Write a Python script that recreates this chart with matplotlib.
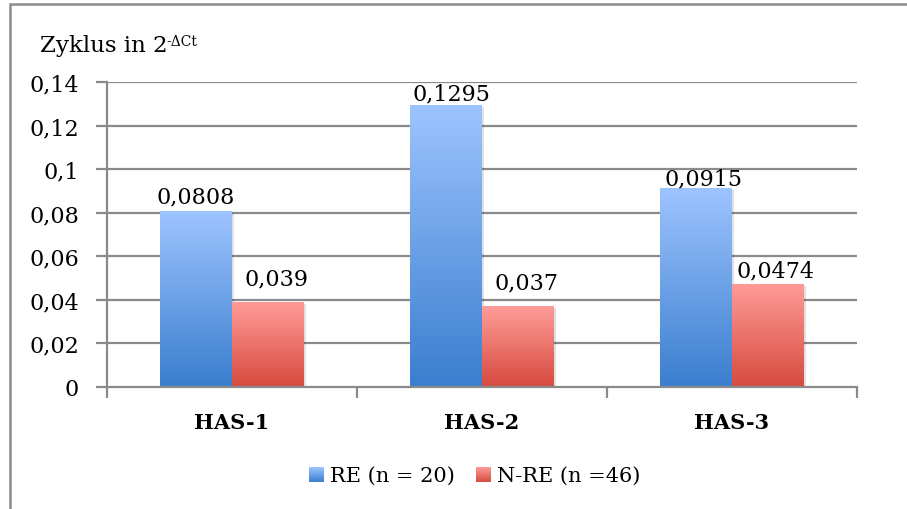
import numpy as np
import matplotlib
matplotlib.use("Agg")
import matplotlib.pyplot as plt
from matplotlib.patches import Rectangle
from matplotlib.colors import LinearSegmentedColormap
from matplotlib.transforms import ScaledTranslation

plt.rcParams['font.family'] = ['DejaVu Serif']

categories = ['HAS-1', 'HAS-2', 'HAS-3']
series_names = ['RE (n = 20)', 'N-RE (n =46)']
re_values = [0.0808, 0.1295, 0.0915]
nre_values = [0.039, 0.037, 0.0474]
value_labels_re = ['0,0808', '0,1295', '0,0915']
value_labels_nre = ['0,039', '0,037', '0,0474']
y_ticks = [0, 0.02, 0.04, 0.06, 0.08, 0.1, 0.12, 0.14]
y_tick_labels = ['0', '0,02', '0,04', '0,06', '0,08', '0,1', '0,12', '0,14']

# label nudges (dx, dy) in pixels above each bar top
re_label_shift = [(0, 9), (5, 5), (7, 3)]
nre_label_shift = [(9, 18), (9, 18), (7, 7)]

W, H = 907, 510
fig = plt.figure(figsize=(W / 100, H / 100), dpi=100)

blue_cmap = LinearSegmentedColormap.from_list('b', [(58/255, 126/255, 206/255), (158/255, 196/255, 255/255)])
red_cmap = LinearSegmentedColormap.from_list('r', [(214/255, 74/255, 62/255), (255/255, 156/255, 152/255)])

# outer frame
fig.add_artist(Rectangle((10 / W, -0.05), 1.1, (H - 5) / H + 0.05, transform=fig.transFigure,
                         fill=False, edgecolor='#8c8c8c', linewidth=1.8))

ax = fig.add_axes([107 / W, (H - 388) / H, 750 / W, 305 / H])
ax.set_xlim(-0.5, 2.5)
ax.set_ylim(0, 0.14)

grid_col = '#8a8a8a'
for t in y_ticks[1:]:
    ax.axhline(t, color=grid_col, linewidth=1.6, zorder=0)

bar_w = 0.288
x = np.arange(len(categories))
grad = np.linspace(0, 1, 256).reshape(-1, 1)


def gradient_bar(xc, h, cmap):
    x0 = xc - bar_w / 2
    shadow = Rectangle((x0, 0), bar_w, h, facecolor='black', alpha=0.12, edgecolor='none',
                       zorder=2, transform=ax.transData +
                       ScaledTranslation(2 / 100, -2 / 100, fig.dpi_scale_trans))
    ax.add_patch(shadow)
    im = ax.imshow(grad, cmap=cmap, aspect='auto', origin='lower',
                   extent=(x0, x0 + bar_w, 0, h), zorder=3, interpolation='bilinear')
    rect = Rectangle((x0, 0), bar_w, h, facecolor='none', edgecolor='none', zorder=3)
    ax.add_patch(rect)
    im.set_clip_path(rect)


for i in range(len(categories)):
    gradient_bar(x[i] - bar_w / 2, re_values[i], blue_cmap)
    gradient_bar(x[i] + bar_w / 2, nre_values[i], red_cmap)
    dx, dy = re_label_shift[i]
    ax.annotate(value_labels_re[i], (x[i] - bar_w / 2, re_values[i]),
                xytext=(dx * 0.72, dy * 0.72), textcoords='offset points',
                ha='center', va='baseline', fontsize=16, zorder=5)
    dx, dy = nre_label_shift[i]
    ax.annotate(value_labels_nre[i], (x[i] + bar_w / 2, nre_values[i]),
                xytext=(dx * 0.72, dy * 0.72), textcoords='offset points',
                ha='center', va='baseline', fontsize=16, zorder=5)

ax.set_xlim(-0.5, 2.5)
ax.set_ylim(0, 0.14)

for s in ['top', 'right']:
    ax.spines[s].set_visible(False)
for s in ['left', 'bottom']:
    ax.spines[s].set_color(grid_col)
    ax.spines[s].set_linewidth(1.6)
    ax.spines[s].set_zorder(4)

ax.set_yticks(y_ticks)
ax.set_yticklabels(y_tick_labels, fontsize=16)
ax.set_xticks([-0.5, 0.5, 1.5, 2.5])
ax.set_xticklabels([])
ax.set_xticks(x, minor=True)
ax.set_xticklabels(categories, minor=True, fontsize=15, fontweight='bold')
ax.tick_params(axis='y', length=8, width=1.6, color=grid_col, pad=12)
ax.tick_params(axis='x', which='major', length=8, width=1.6, color=grid_col)
ax.tick_params(axis='x', which='minor', length=0, pad=18)

# axis title with superscript exponent
title = fig.text(40 / W, 1 - 52 / H, 'Zyklus in 2', fontsize=16.5, va='baseline', ha='left')
ax.annotate('-ΔCt', xy=(1, 0), xycoords=title, xytext=(-1, 8), textcoords='offset points',
            fontsize=10, va='baseline', ha='left', annotation_clip=False)

# legend
def legend_square(x0, cmap):
    lax = fig.add_axes([x0 / W, 1 - 483 / H, 15 / W, 15 / H])
    lax.imshow(grad, cmap=cmap, aspect='auto', origin='lower', extent=(0, 1, 0, 1))
    lax.set_axis_off()

legend_square(309, blue_cmap)
fig.text(330 / W, 1 - 476 / H, series_names[0], fontsize=15, va='center', ha='left')
legend_square(476, red_cmap)
fig.text(497 / W, 1 - 476 / H, series_names[1], fontsize=15, va='center', ha='left')

fig.savefig('out.png', dpi=100)
